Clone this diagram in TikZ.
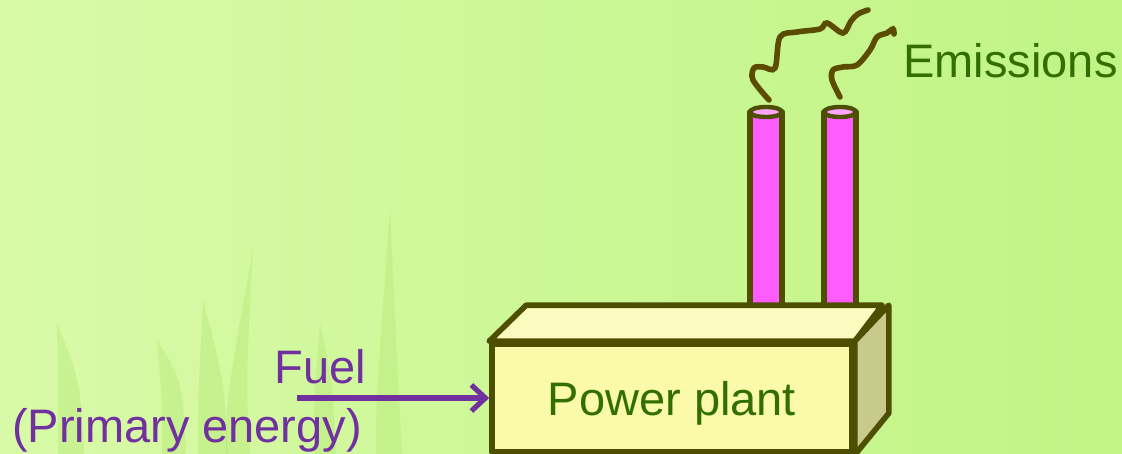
\documentclass[tikz,border=0pt]{standalone}
\usepackage{fontspec}
\setmainfont{Liberation Sans}
\usepackage{tikz}
\usetikzlibrary{arrows.meta}

\definecolor{bgleft}{RGB}{216,250,168}
\definecolor{bgright}{RGB}{192,244,132}
\definecolor{blade}{RGB}{170,225,100}
\definecolor{olive}{RGB}{78,78,0}
\definecolor{smoke}{RGB}{92,76,0}
\definecolor{plantgreen}{RGB}{50,110,0}
\definecolor{fuelpurple}{RGB}{112,48,160}
\definecolor{stackpink}{RGB}{255,92,255}
\definecolor{frontface}{RGB}{250,250,170}
\definecolor{topface}{RGB}{252,252,192}
\definecolor{sideface}{RGB}{200,202,140}

\begin{document}
\begin{tikzpicture}[x=0.5pt, y=-0.5pt,
    every node/.style={font=\fontsize{23.5}{27}\selectfont},
    outline/.style={draw=olive, line width=2.8pt, line join=round},
    stack/.style={outline, fill=stackpink},
    fume/.style={draw=smoke, line width=2.8pt, line cap=round},
    fuelarrow/.style={draw=fuelpurple, line width=2.6pt,
      -{Straight Barb[length=7pt, width=13pt, line width=2.6pt]}}]
  \useasboundingbox (0,0) rectangle (1122,454);
  \shade[left color=bgleft, right color=bgright] (0,0) rectangle (1122,454);
  % faint grass in the corner: tip x/y, foot left, foot right
  \foreach \tx/\ty/\l/\r in {57/323/58/84, 157/340/162/186, 203/300/198/228,
      253/248/226/250, 320/323/314/336, 390/210/376/402}
    \fill[blade, opacity=0.3] (\l,454) .. controls (\l,400) .. (\tx,\ty)
      .. controls (\r-4,380) .. (\r,454) -- cycle;

  % stacks, drawn first so the box hides their feet
  \foreach \x in {766, 840} {
    \draw[stack] (\x-16,310) rectangle (\x+16,112);
    \draw[outline, line width=2.2pt, fill=stackpink!55!white] (\x,112) ellipse (16 and 5);
  }

  % the plant: front face as a node, top and side as faces
  \node[outline, fill=frontface, text=plantgreen, minimum width=180pt,
        minimum height=54pt, text depth=0pt] (plant) at (672,398) {Power plant};
  \draw[outline, fill=topface] (plant.north west) -- ++(37,-36)
      -- ++(356,0) -- (plant.north east) -- cycle;
  \draw[outline, fill=sideface] (plant.north east) -- ++(34,-36)
      -- ++(0,108) -- (plant.south east) -- cycle;

  % smoke
  \draw[fume] plot[smooth, tension=0.55] coordinates {(769,100) (753,80) (754,68)
      (763,67) (775,68) (780,37) (797,32) (820,29) (827,23) (843,33) (851,21)
      (858,14) (868,10)};
  \draw[fume] plot[smooth, tension=0.55] coordinates {(840,97) (832,80) (833,70)
      (843,67) (857,65) (870,50) (877,37) (887,33) (893,29) (894,34)};
  \node[anchor=base west, inner sep=0pt, text=plantgreen] (emis) at (903,78) {Emissions};

  % fuel input
  \node[anchor=base, inner sep=0pt, text=fuelpurple] (fuel) at (320,383) {Fuel};
  \node[anchor=base, inner sep=0pt, text=fuelpurple] (primary) at (187,442) {(Primary energy)};
  \coordinate (fuelin) at (297,398);
  \draw[fuelarrow] (fuelin) -- (plant.west);
\end{tikzpicture}
\end{document}
